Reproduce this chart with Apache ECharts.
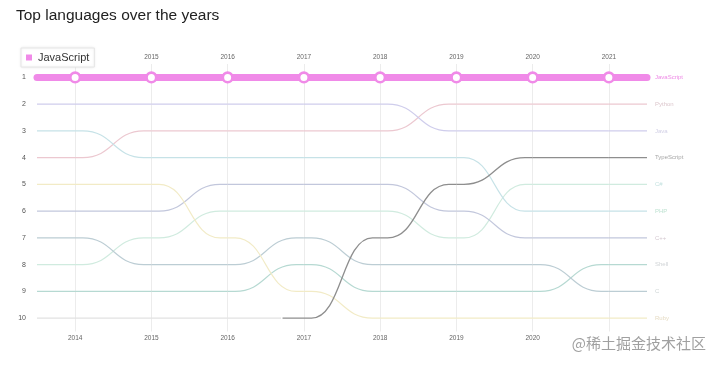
<!DOCTYPE html>
<html><head><meta charset="utf-8">
<script src="https://cdn.jsdelivr.net/npm/echarts@6/dist/echarts.min.js"></script>
<style>html,body{margin:0;padding:0;background:#fff}#c{width:720px;height:365px}</style>
</head><body><div id="c"></div>
<script>
// ---------- data ----------
const years = ['2014','2015','2016','2017','2018','2019','2020','2021'];
const rankTicks = ['1','2','3','4','5','6','7','8','9','10'];
const languages = ['JavaScript','Python','Java','TypeScript','C#','PHP','C++','Shell','C','Ruby','Objective-C'];
const rankJavaScript = [1,1,1,1,1,1,1,1];
const rankPython     = [4,3,3,3,3,2,2,2];
const rankJava       = [2,2,2,2,2,3,3,3];
const rankTypeScript = [null,null,null,10,7,5,4,4];
const rankCSharp     = [8,7,6,6,6,7,5,5];
const rankPHP        = [3,4,4,4,4,4,6,6];
const rankCpp        = [6,6,5,5,5,6,7,7];
const rankShell      = [9,9,9,8,9,9,9,8];
const rankC          = [7,8,8,7,8,8,8,9];
const rankRuby       = [5,5,7,9,10,10,10,10];
const rankObjC       = [10,10,10,null,null,null,null,null];
const rankTable = [rankJavaScript,rankPython,rankJava,rankTypeScript,rankCSharp,rankPHP,rankCpp,rankShell,rankC,rankRuby,rankObjC];

// ---------- styles ----------
const lineColors = {
  'JavaScript':'#f08ae8','Python':'#ecc8d0','Java':'#cfcdec','TypeScript':'#8e8e8e','C#':'#d0ebdf',
  'PHP':'#c6e2e7','C++':'#c2c7dc','Shell':'#b6d9d2','C':'#bccdd4','Ruby':'#f2ebc6','Objective-C':'#e2e2e2'
};
const labelColors = {
  'JavaScript':'#ee8ae6','Python':'#dcc6cc','Java':'#d2d0e6','TypeScript':'#a6a6a6','C#':'#c4e2e0',
  'PHP':'#bfe3d2','C++':'#d4c8d0','Shell':'#d0d4d6','C':'#cfd6d6','Ruby':'#e6dcc4'
};
const F = 0.1;

// right-hand labels from the last year's ranking
const lastIdx = years.length - 1;
const rightLabels = rankTicks.map(()=>'');
languages.forEach((name, k) => { const r = rankTable[k][lastIdx]; if (r != null) rightLabels[r-1] = name; });

function makeRender(pts, color, width, isMain, leadOutMid) {
  return function (params, api) {
    const i = params.dataIndex;
    const cur = pts[i];
    const p = api.coord(cur);
    const bw = api.coord([1,0])[0] - api.coord([0,0])[0];
    const leadIn = cur[0] === 0 ? 0.5 : 0.28;
    let d = '';
    if (i === 0) d += 'M' + (p[0] - bw*leadIn) + ' ' + p[1] + ' L' + p[0] + ' ' + p[1];
    else d += 'M' + p[0] + ' ' + p[1];
    const nx = pts[i+1];
    if (nx) {
      const q = api.coord(nx);
      if (Math.abs(q[1]-p[1]) < 0.01) d += ' L' + q[0] + ' ' + q[1];
      else {
        const a = p[0] + bw*F, b = q[0] - bw*F, m = (a+b)/2;
        d += ' L'+a+' '+p[1]+' C'+m+' '+p[1]+' '+m+' '+q[1]+' '+b+' '+q[1]+' L'+q[0]+' '+q[1];
      }
    } else {
      const leadOut = cur[0] === lastIdx ? 0.5 : leadOutMid;
      d += ' L' + (p[0] + bw*leadOut) + ' ' + p[1];
    }
    const children = [{
      type: 'path', shape: { pathData: d },
      style: { fill: 'none', stroke: color, lineWidth: width, lineCap: isMain ? 'round' : 'butt' }
    }];
    if (isMain) children.push({
      type: 'circle', shape: { cx: p[0], cy: p[1], r: 4.8 },
      style: { fill: '#fff', stroke: color, lineWidth: 2.6 }
    });
    return { type: 'group', children };
  };
}

const series = languages.map((name, k) => {
  const pts = [];
  rankTable[k].forEach((r, i) => { if (r != null) pts.push([i, r-1]); });
  const isMain = name === 'JavaScript';
  const s = {
    name, type: 'custom', coordinateSystem: 'cartesian2d',
    data: pts, encode: { x: 0, y: 1 }, silent: true,
    itemStyle: { color: lineColors[name] },
    z: isMain ? 6 : (name === 'TypeScript' ? 4 : 3),
    renderItem: makeRender(pts, lineColors[name], isMain ? 7 : (name === 'TypeScript' ? 1.3 : 1.1), isMain, 0.7)
  };
  if (name === 'Objective-C') {
    s.markLine = {
      silent: true, symbol: ['none','none'], z: 1, animation: false,
      label: { show: false },
      lineStyle: { color: '#ececec', width: 1, type: 'solid' },
      data: years.map(y => ({ xAxis: y }))
    };
  }
  return s;
});

const chart = echarts.init(document.getElementById('c'), null, { renderer: 'canvas' });
chart.setOption({
  animation: false,
  backgroundColor: '#fff',
  textStyle: { fontFamily: 'Liberation Sans, Arial, sans-serif' },
  title: {
    text: 'Top languages over the years', left: 11, top: 3,
    textStyle: { fontSize: 15.5, fontWeight: 'normal', color: '#222', fontFamily: 'Liberation Sans, Arial, sans-serif' }
  },
  legend: {
    data: ['JavaScript'], left: 21, top: 48, icon: 'rect', itemWidth: 6, itemHeight: 6, itemGap: 4,
    padding: [4, 5, 4, 5], backgroundColor: '#fff', borderColor: '#e6e6e6', borderWidth: 1,
    shadowBlur: 3, shadowColor: 'rgba(0,0,0,0.08)', selectedMode: false,
    textStyle: { fontSize: 11, color: '#333', padding: [0,0,0,1] }
  },
  grid: { left: 37, right: 73, top: 64, bottom: 33.5 },
  xAxis: [
    { type: 'category', data: years, position: 'bottom', boundaryGap: true,
      axisLine: { show: false }, axisTick: { show: false }, splitLine: { show: false },
      axisLabel: { fontSize: 6.5, color: '#666', margin: 3, formatter: (v, i) => i === lastIdx ? '' : v } },
    { type: 'category', data: years, position: 'top', boundaryGap: true,
      axisLine: { show: false }, axisTick: { show: false }, splitLine: { show: false },
      axisLabel: { fontSize: 6.5, color: '#666', margin: 3, formatter: (v, i) => i === 0 ? '' : v } }
  ],
  yAxis: [
    { type: 'category', data: rankTicks, inverse: true, boundaryGap: true, position: 'left',
      axisLine: { show: false }, axisTick: { show: false }, splitLine: { show: false },
      axisLabel: { fontSize: 7, color: '#555', margin: 11 } },
    { type: 'category', data: rightLabels, inverse: true, boundaryGap: true, position: 'right',
      axisLine: { show: false }, axisTick: { show: false }, splitLine: { show: false },
      axisLabel: { fontSize: 6, margin: 8, color: (v) => labelColors[v] || '#ccc' } }
  ],
  graphic: [{
    type: 'text', right: 14, top: 336, z: 100,
    style: { text: '@稀土掘金技术社区', fontSize: 15, fill: '#a0a0a0', fontFamily: 'Noto Sans CJK SC' }
  }],
  series
});
</script>
</body></html>
